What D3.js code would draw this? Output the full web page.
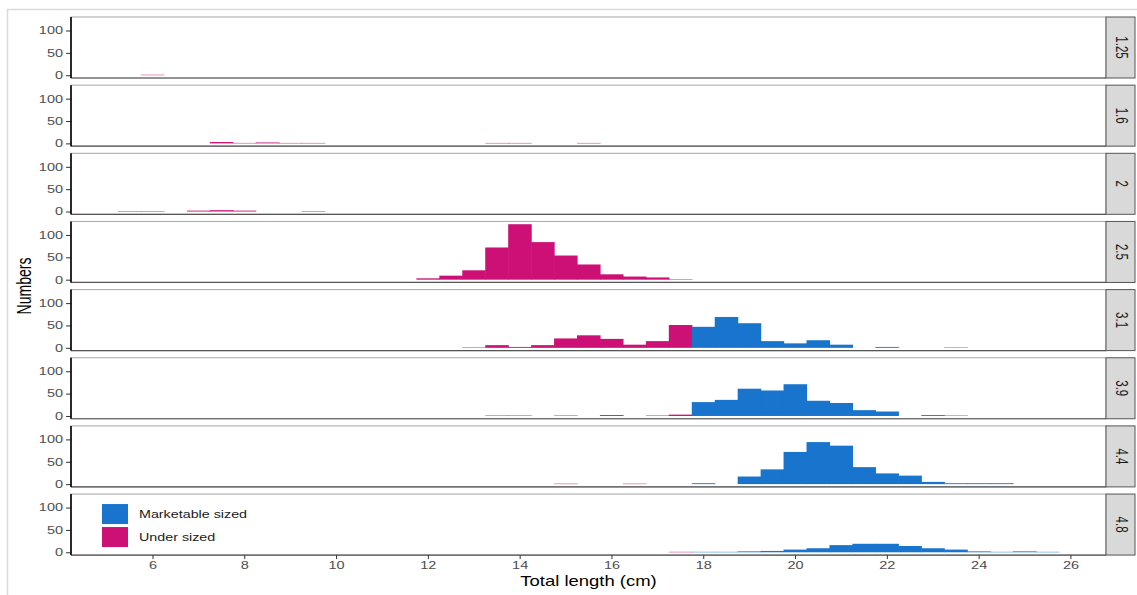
<!DOCTYPE html>
<html>
<head>
<meta charset="utf-8">
<script src="https://cdn.jsdelivr.net/npm/d3@7"></script>
<style>
  body { margin: 0; background: #fff; }
  svg { font-family: "Liberation Sans", Arial, sans-serif; display: block; }
</style>
</head>
<body>
<div id="chart"></div>
<script>
//DATA
// bin centres of total length (cm), bins are 0.5 cm wide
var lengthBins = [5.5, 6, 6.5, 7, 7.5, 8, 8.5, 9, 9.5, 10,
    10.5, 11, 11.5, 12, 12.5, 13, 13.5, 14, 14.5, 15,
    15.5, 16, 16.5, 17, 17.5, 18, 18.5, 19, 19.5, 20,
    20.5, 21, 21.5, 22, 22.5, 23, 23.5, 24, 24.5, 25,
    25.5];
var panelLabels = ["1.25", "1.6", "2", "2.5", "3.1", "3.9", "4.4", "4.8"];

var counts125 = [0, 1, 0, 0, 0, 0, 0, 0, 0, 0,
    0, 0, 0, 0, 0, 0, 0, 0, 0, 0,
    0, 0, 0, 0, 0, 0, 0, 0, 0, 0,
    0, 0, 0, 0, 0, 0, 0, 0, 0, 0, 0];
var counts16 = [0, 0, 0, 0, 3, 1, 2, 1, 1, 0,
    0, 0, 0, 0, 0, 0, 1, 1, 0, 0,
    1, 0, 0, 0, 0, 0, 0, 0, 0, 0,
    0, 0, 0, 0, 0, 0, 0, 0, 0, 0, 0];
var counts2 = [1, 1, 0, 2, 3, 2, 0, 0, 1, 0,
    0, 0, 0, 0, 0, 0, 0, 0, 0, 0,
    0, 0, 0, 0, 0, 0, 0, 0, 0, 0,
    0, 0, 0, 0, 0, 0, 0, 0, 0, 0, 0];
var counts25 = [0, 0, 0, 0, 0, 0, 0, 0, 0, 0,
    0, 0, 0, 3, 9, 21, 72, 124, 84, 54,
    34, 12, 7, 5, 1, 0, 0, 0, 0, 0,
    0, 0, 0, 0, 0, 0, 0, 0, 0, 0, 0];
var counts31 = [0, 0, 0, 0, 0, 0, 0, 0, 0, 0,
    0, 0, 0, 0, 0, 1, 6, 2, 6, 21,
    28, 20, 7, 15, 51, 47, 69, 55, 15, 10,
    17, 7, 0, 2, 0, 0, 1, 0, 0, 0, 0];
var counts39 = [0, 0, 0, 0, 0, 0, 0, 0, 0, 0,
    0, 0, 0, 0, 0, 0, 1, 1, 0, 1,
    0, 2, 0, 1, 3, 31, 36, 61, 57, 71,
    34, 29, 13, 10, 0, 2, 1, 0, 0, 0, 0];
var counts44 = [0, 0, 0, 0, 0, 0, 0, 0, 0, 0,
    0, 0, 0, 0, 0, 0, 0, 0, 0, 1,
    0, 0, 1, 0, 0, 2, 0, 17, 33, 72,
    94, 86, 38, 24, 19, 5, 2, 2, 2, 0, 0];
var counts48 = [0, 0, 0, 0, 0, 0, 0, 0, 0, 0,
    0, 0, 0, 0, 0, 0, 0, 0, 0, 0,
    0, 0, 0, 0, 1, 1, 1, 2, 3, 6,
    9, 16, 19, 19, 14, 9, 6, 2, 1, 2, 1];
var panelCounts = [counts125, counts16, counts2, counts25, counts31, counts39, counts44, counts48];

var sizeClasses = ["Marketable sized", "Under sized"];
var minLegalSize = 18; // bins from 18 cm up are marketable
var xTicks = [6, 8, 10, 12, 14, 16, 18, 20, 22, 24, 26];
var yTicks = [0, 50, 100];
var binWidth = 0.5;

//LAYOUT
var W = 1137, H = 595;
var plotLeft = 71, plotRight = 1106, stripW = 29;
var firstTop = 17, panelH = 61, panelGap = 7.15;
var stretch = 1.38; // the original picture is stretched sideways, so text is too
var colors = { "Marketable sized": "#1874CD", "Under sized": "#CD1076" };

var svg = d3.select("#chart").append("svg")
    .attr("width", W)
    .attr("height", H);

// light frame round the figure
svg.append("path")
    .attr("d", "M7.5," + H + " V9.5 H" + W)
    .attr("fill", "none")
    .attr("stroke", "#d9d9d9")
    .attr("stroke-width", 1.5);

var xmin = lengthBins[0] - binWidth / 2,
    xmax = lengthBins[lengthBins.length - 1] + binWidth / 2,
    xpad = (xmax - xmin) * 0.05;
var x = d3.scaleLinear()
    .domain([xmin - xpad, xmax + xpad])
    .range([plotLeft, plotRight]);

var ymaxData = d3.max(panelCounts, function(c) { return d3.max(c); });
var ypad = ymaxData * 0.05;

function sizeClass(len) {
    return len >= minLegalSize ? "Marketable sized" : "Under sized";
}

// widen axis tick text, keeping its anchor point
function widenTicks(sel) {
    sel.each(function() {
        var t = d3.select(this);
        var x0 = +t.attr("x") || 0;
        t.attr("x", x0 / stretch).attr("transform", "scale(" + stretch + ",1)");
    });
}

panelCounts.forEach(function(counts, i) {
    var top = firstTop + i * (panelH + panelGap);
    var y = d3.scaleLinear()
        .domain([-ypad, ymaxData + ypad])
        .range([top + panelH, top]);

    var g = svg.append("g");

    g.append("rect")
        .attr("x", plotLeft)
        .attr("y", top)
        .attr("width", plotRight - plotLeft)
        .attr("height", panelH)
        .attr("fill", "#fff")
        .attr("stroke", "#a6a6a6")
        .attr("stroke-width", 1);

    var bins = lengthBins.map(function(len, j) {
        return { len: len, n: counts[j] };
    }).filter(function(d) { return d.n > 0; });

    // slight overlap so neighbouring bars don't show a seam
    g.selectAll("rect.bar")
        .data(bins)
        .enter()
        .append("rect")
        .attr("class", "bar")
        .attr("x", function(d) { return x(d.len - binWidth / 2); })
        .attr("width", function(d) { return x(d.len + binWidth / 2) - x(d.len - binWidth / 2) + 0.6; })
        .attr("y", function(d) { return y(d.n); })
        .attr("height", function(d) { return y(0) - y(d.n); })
        .attr("fill", function(d) { return colors[sizeClass(d.len)]; });

    // bottom line and y axis
    g.append("line")
        .attr("x1", plotLeft).attr("x2", plotRight)
        .attr("y1", top + panelH).attr("y2", top + panelH)
        .attr("stroke", "#555").attr("stroke-width", 1.2);

    var yAxis = g.append("g")
        .attr("transform", "translate(" + plotLeft + ",0)")
        .call(d3.axisLeft(y).tickValues(yTicks).tickSize(5).tickPadding(3));
    yAxis.select(".domain").remove();
    yAxis.append("line")
        .attr("x1", 0).attr("x2", 0)
        .attr("y1", top).attr("y2", top + panelH)
        .attr("stroke", "#000").attr("stroke-width", 1.6);
    yAxis.selectAll(".tick line").attr("stroke", "#333");
    yAxis.selectAll(".tick text")
        .attr("fill", "#4d4d4d")
        .style("font-size", "10.5px")
        .style("font-family", "Liberation Sans, Arial, sans-serif")
        .call(widenTicks);

    // strip on the right
    g.append("rect")
        .attr("x", plotRight)
        .attr("y", top)
        .attr("width", stripW)
        .attr("height", panelH)
        .attr("fill", "#d9d9d9")
        .attr("stroke", "#555")
        .attr("stroke-width", 1);
    g.append("text")
        .attr("transform", "translate(" + (plotRight + stripW / 2 - 5) + "," + (top + panelH / 2) + ") scale(" + stretch + ",1) rotate(90)")
        .attr("text-anchor", "middle")
        .attr("fill", "#1a1a1a")
        .style("font-size", "11.5px")
        .text(panelLabels[i]);

    // x axis on last panel only
    if (i == panelCounts.length - 1) {
        var xAxis = g.append("g")
            .attr("transform", "translate(0," + (top + panelH) + ")")
            .call(d3.axisBottom(x).tickValues(xTicks).tickSize(4).tickPadding(3));
        xAxis.select(".domain").remove();
        xAxis.selectAll(".tick line").attr("stroke", "#333");
        xAxis.selectAll(".tick text")
            .attr("fill", "#4d4d4d")
            .style("font-size", "10.5px")
            .style("font-family", "Liberation Sans, Arial, sans-serif")
            .call(widenTicks);

        // legend inside last panel
        var legend = g.append("g");
        sizeClasses.forEach(function(s, k) {
            var ly = top + 10 + k * 23;
            legend.append("rect")
                .attr("x", 102).attr("y", ly)
                .attr("width", 26).attr("height", 20)
                .attr("fill", colors[s]);
            legend.append("text")
                .attr("transform", "translate(139," + (ly + 10) + ") scale(1.3,1)")
                .attr("dy", "0.35em")
                .attr("fill", "#1a1a1a")
                .style("font-size", "11px")
                .text(s);
        });
    }
});

// axis titles
svg.append("text")
    .attr("transform", "translate(" + ((plotLeft + plotRight) / 2) + ",586) scale(1.32,1)")
    .attr("text-anchor", "middle")
    .style("font-size", "14px")
    .attr("fill", "#000")
    .text("Total length (cm)");

svg.append("text")
    .attr("transform", "translate(31," + ((firstTop + 555) / 2) + ") scale(" + stretch + ",1) rotate(-90)")
    .attr("text-anchor", "middle")
    .style("font-size", "14px")
    .attr("fill", "#000")
    .text("Numbers");
</script>
</body>
</html>
